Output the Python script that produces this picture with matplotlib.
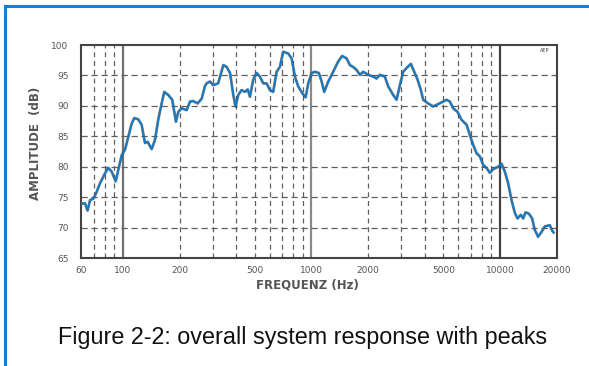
import numpy as np
import matplotlib
matplotlib.use("Agg")
import matplotlib.pyplot as plt
from matplotlib.lines import Line2D

# frequency response
freq = [60, 63, 65, 67, 70, 72.7, 75.7, 80.4, 83.7, 87.3, 91.6, 94.6, 98.6, 102.7,
        106.9, 111.4, 115, 120.7, 125.8, 131, 135.4, 142.2, 148, 154, 159.3, 165.8,
        174, 182.8, 191.2, 196.7, 205, 218, 227, 236, 249, 262, 272, 278, 290, 301,
        320, 341, 355, 370, 385, 396, 409, 426, 444, 459, 472, 491, 512, 533, 555,
        578, 602, 627, 653, 680, 708, 753, 785, 817, 851, 893, 931, 961, 1002, 1043,
        1095, 1132, 1168, 1227, 1279, 1331, 1386, 1455, 1535, 1599, 1664, 1735, 1806,
        1880, 1999, 2124, 2214, 2305, 2450, 2551, 2711, 2826, 2942, 3063, 3232, 3365,
        3503, 3652, 3802, 3910, 4156, 4417, 4695, 4991, 5202, 5417, 5639, 5949, 6247,
        6640, 6913, 7198, 7503, 7811, 8132, 8476, 8825, 9187, 9763, 10176, 10595,
        11030, 11499, 11971, 12373, 12877, 13247, 13640, 14200, 14784, 15276, 15904,
        16583, 17264, 18346, 18868, 19197]
level = [73.9, 74.0, 72.8, 74.5, 74.8, 75.9, 77.3, 78.9, 79.8, 79.2, 77.6, 79.5, 81.9, 82.8,
         84.9, 87.1, 88.0, 87.8, 86.9, 83.9, 84.1, 82.9, 84.4, 87.7, 89.9, 92.3,
         91.8, 91.0, 87.4, 89.0, 89.6, 89.3, 90.7, 90.8, 90.4, 91.2, 93.2, 93.7, 94.0, 93.4,
         93.7, 96.7, 96.4, 95.4, 91.8, 89.9, 91.8, 92.6, 92.3, 92.7, 91.5, 94.3, 95.4, 94.8, 93.7,
         93.7, 92.6, 92.3, 95.6, 96.4, 98.9, 98.6, 97.8, 94.8, 93.2, 92.1, 91.4, 93.7, 95.4, 95.6,
         95.4, 94.0, 92.3, 94.0, 95.1, 96.2, 97.3, 98.2, 97.8, 96.7, 96.4, 95.9, 95.1,
         95.6, 95.1, 94.8, 94.5, 95.1, 94.8, 93.2, 91.8, 91.0, 93.4, 95.6, 96.4, 96.9,
         95.6, 94.3, 92.6, 91.0, 90.4, 89.9, 90.3, 90.7, 91.0, 90.7, 89.6, 89.0, 87.7,
         86.9, 85.2, 83.6, 82.2, 81.7, 80.3, 79.8, 79.0, 79.6, 80.0, 80.5, 79.2,
         77.3, 74.5, 72.4, 71.5, 72.1, 71.5, 72.5, 72.3, 71.5, 69.6, 68.5,
         69.3, 70.2, 70.4, 69.5, 69.2]

xticks = [60, 100, 200, 500, 1000, 2000, 5000, 10000, 20000]
yticks = [65, 70, 75, 80, 85, 90, 95, 100]
minor_lines = [70, 80, 90, 200, 300, 400, 500, 600, 700, 800, 900,
               2000, 3000, 4000, 5000, 6000, 7000, 8000, 9000]
major_lines = [100, 1000, 10000]

fig = plt.figure(figsize=(5.89, 3.66), dpi=100)
ax = fig.add_axes([0.1375, 0.295, 0.808, 0.582])

ax.set_xscale('log')
ax.set_xlim(60, 20000)
ax.set_ylim(65, 100)

grid_col = '#606060'
for f in minor_lines:
    ax.axvline(f, color=grid_col, lw=0.9, ls=(0, (4, 3)), zorder=1)
for f, c in zip(major_lines, ['#707070', '#8a8a8a', '#444444']):
    ax.axvline(f, color=c, lw=1.6, zorder=1)
for y in yticks[1:-1]:
    ax.axhline(y, color=grid_col, lw=0.9, ls=(0, (5, 3)), zorder=1)

# dark shadow of the scanned trace, blue trace on top
ax.plot(freq, level, color='#333333', lw=2.0, zorder=2, alpha=0.6)
ax.plot(freq, level, color='#1479c4', lw=1.3, zorder=3)

ax.set_xticks(xticks)
ax.set_xticklabels([str(t) for t in xticks])
ax.xaxis.set_minor_locator(matplotlib.ticker.NullLocator())
ax.set_yticks(yticks)
ax.tick_params(length=0, labelsize=6.5, colors='#555555')
ax.tick_params(axis='x', pad=6)
ax.tick_params(axis='y', pad=9)
for s in ax.spines.values():
    s.set_color('#444444')
    s.set_linewidth(1.5)

ax.set_ylabel('AMPLITUDE  (dB)', fontsize=8.5, color='#555555', weight='bold')
ax.yaxis.set_label_coords(-0.082, 0.54)
ax.set_xlabel('FREQUENZ (Hz)', fontsize=8.5, color='#555555', weight='bold')
ax.xaxis.set_label_coords(0.475, -0.095)
ax.text(0.985, 0.985, 'AEP', transform=ax.transAxes, ha='right', va='top',
        fontsize=3.5, color='#444444')

fig.text(0.5136, 0.079, 'Figure 2-2: overall system response with peaks',
         ha='center', va='center', fontsize=16.8, family='Liberation Sans', color='#111111')

# blue frame (top and left edges)
fig.add_artist(Line2D([4.5 / 589, 1], [1 - 5.5 / 366, 1 - 5.5 / 366], color='#1a7dcf', lw=2.2))
fig.add_artist(Line2D([4.5 / 589, 4.5 / 589], [0, 1 - 5.5 / 366], color='#1a7dcf', lw=2.2))

fig.savefig('out.png', dpi=100)
